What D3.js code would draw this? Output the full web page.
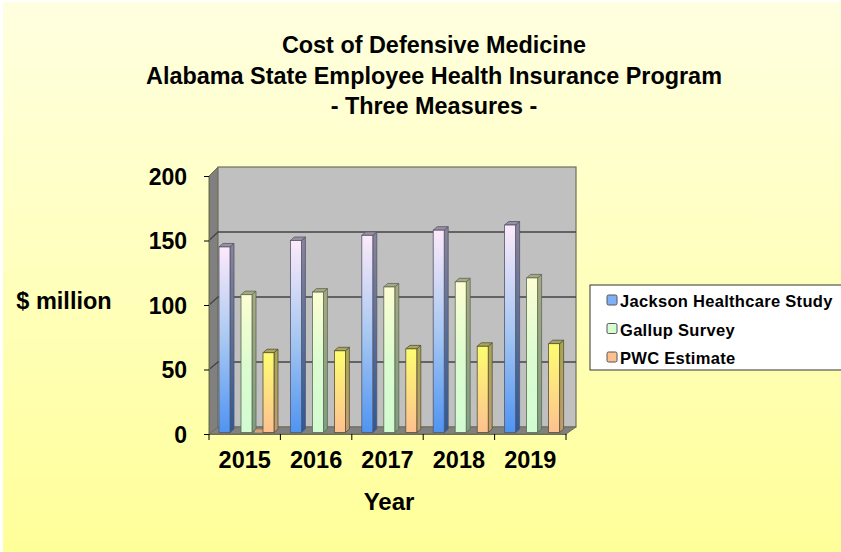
<!DOCTYPE html>
<html>
<head>
<meta charset="utf-8">
<script src="https://cdnjs.cloudflare.com/ajax/libs/d3/7.8.5/d3.min.js"></script>
<style>
  html, body { margin: 0; padding: 0; background: #fff; }
  svg { display: block; }
  text { font-family: "Liberation Sans", Arial, sans-serif; font-weight: bold; fill: #000; }
</style>
</head>
<body>
<script>
// chart data
var years = ["2015", "2016", "2017", "2018", "2019"];
var seriesNames = ["Jackson Healthcare Study", "Gallup Survey", "PWC Estimate"];
var jackson = [145, 150, 154, 158, 162];
var gallup = [108, 110, 114, 118, 121];
var pwc = [63, 64.5, 66, 68, 70];
var yTicks = [0, 50, 100, 150, 200];
var titleLines = ["Cost of Defensive Medicine", "Alabama State Employee Health Insurance Program", "- Three Measures -"];

var seriesValues = [jackson, gallup, pwc];
// each series: front gradient stops, side gradient, top colour
var seriesColors = [
  { stops: ["#fdeafa", "#a8c8f2", "#4f94f2"], sideTop: "#8a8498", sideBottom: "#2a5a9a", cap: "#9a8fa0", edge: "#55556a", legend: "#7fb0f5" },
  { stops: ["#fdfdd2", "#dcfcd0", "#d2fbd2"], sideTop: "#a8a880", sideBottom: "#7f9f80", cap: "#a8a980", edge: "#5a6a55", legend: "#d6fcd0" },
  { stops: ["#fdfd70", "#fee080", "#fdc090"], sideTop: "#a8a650", sideBottom: "#c09a70", cap: "#a8a660", edge: "#55503a", legend: "#fdc08e" }
];

var width = 841, height = 552;
var barDepthX = 4, barDepthY = 3.5;

var svg = d3.select("body").append("svg")
  .attr("width", width)
  .attr("height", height);

var defs = svg.append("defs");

var bg = defs.append("linearGradient").attr("id", "bg")
  .attr("x1", 0).attr("y1", 0).attr("x2", 0).attr("y2", 1);
bg.append("stop").attr("offset", "0%").attr("stop-color", "#ffffe0");
bg.append("stop").attr("offset", "100%").attr("stop-color", "#ffff99");

seriesColors.forEach(function(c, i) {
  var g = defs.append("linearGradient").attr("id", "bar" + i)
    .attr("x1", 0).attr("y1", 0).attr("x2", 0).attr("y2", 1);
  c.stops.forEach(function(s, k) {
    g.append("stop").attr("offset", (k * 50) + "%").attr("stop-color", s);
  });
  var sg = defs.append("linearGradient").attr("id", "side" + i)
    .attr("x1", 0).attr("y1", 0).attr("x2", 0).attr("y2", 1);
  sg.append("stop").attr("offset", "0%").attr("stop-color", c.sideTop);
  sg.append("stop").attr("offset", "100%").attr("stop-color", c.sideBottom);
});

svg.append("rect")
  .attr("x", 3).attr("y", 2)
  .attr("width", width - 3).attr("height", height - 2)
  .attr("fill", "url(#bg)");

// scales, front plane and back wall
var y = d3.scaleLinear().domain([0, 200]).range([434, 176]);
var yBack = d3.scaleLinear().domain([0, 200]).range([427, 167]);
var x0 = d3.scaleBand().domain(years).range([209, 566]);
var x1 = d3.scaleBand().domain(d3.range(3)).range([10, 65]).paddingInner(0.5).paddingOuter(0);

var plotLeft = 209, plotRight = 566, backLeft = 218, backRight = 576;
var barBase = y(0) - 1.5;

// left wall
svg.append("path")
  .attr("d", d3.line()([
    [plotLeft, y(0)], [backLeft, yBack(0)],
    [backLeft, yBack(200)], [plotLeft, y(200)]
  ]) + "Z")
  .attr("fill", "#808080")
  .attr("stroke", "#6e6e50").attr("stroke-width", 1);

// back wall
svg.append("rect")
  .attr("x", backLeft).attr("y", yBack(200))
  .attr("width", backRight - backLeft)
  .attr("height", yBack(0) - yBack(200))
  .attr("fill", "#c0c0c0")
  .attr("stroke", "#70705a").attr("stroke-width", 1.2);

// floor
svg.append("path")
  .attr("d", d3.line()([
    [plotLeft, y(0)], [backLeft, yBack(0)],
    [backRight, yBack(0)], [plotRight, y(0)]
  ]) + "Z")
  .attr("fill", "#808080")
  .attr("stroke", "#6e6e50").attr("stroke-width", 1);

// gridlines on wall, with the slanted bit on the left wall
var gridTicks = yTicks.slice(1, 4);
svg.append("g").selectAll("path")
  .data(gridTicks)
  .enter().append("path")
  .attr("d", function(d) {
    return d3.line()([
      [plotLeft, y(d)], [backLeft, yBack(d)], [backRight, yBack(d)]
    ]);
  })
  .attr("fill", "none")
  .attr("stroke", "#444")
  .attr("stroke-width", 1.3);

// the small stub on the floor beside the 2015 PWC bar
svg.append("rect")
  .attr("x", x0("2015") + x1(2) - 8).attr("y", barBase - 3)
  .attr("width", 8).attr("height", 3)
  .attr("fill", "#e0a070");

// bars
var groups = svg.append("g").selectAll("g")
  .data(years)
  .enter().append("g")
  .attr("transform", function(d) { return "translate(" + x0(d) + ",0)"; });

seriesValues.forEach(function(values, s) {
  var c = seriesColors[s];
  var w = x1.bandwidth();
  var bar = groups.append("g");
  // right side
  bar.append("path")
    .attr("d", function(d, i) {
      var bx = x1(s) + w, t = y(values[i]);
      return d3.line()([[bx, t], [bx + barDepthX, t - barDepthY], [bx + barDepthX, barBase - barDepthY], [bx, barBase]]) + "Z";
    })
    .attr("fill", "url(#side" + s + ")").attr("stroke", c.edge).attr("stroke-width", 0.8);
  // top
  bar.append("path")
    .attr("d", function(d, i) {
      var bx = x1(s), t = y(values[i]);
      return d3.line()([[bx, t], [bx + barDepthX, t - barDepthY], [bx + w + barDepthX, t - barDepthY], [bx + w, t]]) + "Z";
    })
    .attr("fill", c.cap).attr("stroke", c.edge).attr("stroke-width", 0.8);
  // front
  bar.append("rect")
    .attr("x", x1(s))
    .attr("y", function(d, i) { return y(values[i]); })
    .attr("width", w)
    .attr("height", function(d, i) { return barBase - y(values[i]); })
    .attr("fill", "url(#bar" + s + ")")
    .attr("stroke", c.edge).attr("stroke-width", 0.8);
});

// y axis
var yAxis = d3.axisLeft(y).tickValues(yTicks).tickSize(5).tickPadding(17);
var yG = svg.append("g").attr("transform", "translate(" + plotLeft + ",0)").call(yAxis);
yG.select(".domain").attr("stroke", "#6e6e50");
yG.selectAll("line").attr("stroke", "#000");
yG.selectAll("text").attr("font-size", 23).attr("dy", "0.35em").attr("fill", "#000");

// x axis
var xAxis = d3.axisBottom(x0).tickSize(0).tickPadding(17);
var xG = svg.append("g").attr("transform", "translate(0," + y(0) + ")").call(xAxis);
xG.select(".domain").attr("stroke", "#6e6e50");
xG.selectAll("text").attr("font-size", 23.5).attr("fill", "#000");
svg.append("g").selectAll("line")
  .data(years.concat(["end"]))
  .enter().append("line")
  .attr("x1", function(d) { return d == "end" ? plotRight : x0(d); })
  .attr("x2", function(d) { return d == "end" ? plotRight : x0(d); })
  .attr("y1", y(0)).attr("y2", y(0) + 6)
  .attr("stroke", "#000");

// titles
svg.append("g").selectAll("text")
  .data(titleLines)
  .enter().append("text")
  .attr("x", 434)
  .attr("y", function(d, i) { return 53 + i * 30.5; })
  .attr("text-anchor", "middle")
  .attr("font-size", 23.4)
  .text(function(d) { return d; });

svg.append("text").attr("x", 64).attr("y", 309)
  .attr("text-anchor", "middle").attr("font-size", 23.5).text("$ million");
svg.append("text").attr("x", 389).attr("y", 510)
  .attr("text-anchor", "middle").attr("font-size", 24).text("Year");

// legend
svg.append("rect")
  .attr("x", 590).attr("y", 285)
  .attr("width", 252).attr("height", 85)
  .attr("fill", "#fff").attr("stroke", "#333").attr("stroke-width", 1);

var legendY = d3.scalePoint().domain(seriesNames).range([301, 358]);
var legend = svg.append("g").selectAll("g")
  .data(seriesNames)
  .enter().append("g")
  .attr("transform", function(d) { return "translate(0," + legendY(d) + ")"; });
legend.append("rect")
  .attr("x", 607).attr("y", -6)
  .attr("width", 10).attr("height", 10)
  .attr("rx", 1.5)
  .attr("fill", function(d, i) { return seriesColors[i].legend; })
  .attr("stroke", "#555").attr("stroke-width", 1);
legend.append("text")
  .attr("x", 620).attr("y", 6)
  .attr("font-size", 16.5)
  .attr("letter-spacing", 0.3)
  .text(function(d) { return d; });
</script>
</body>
</html>
